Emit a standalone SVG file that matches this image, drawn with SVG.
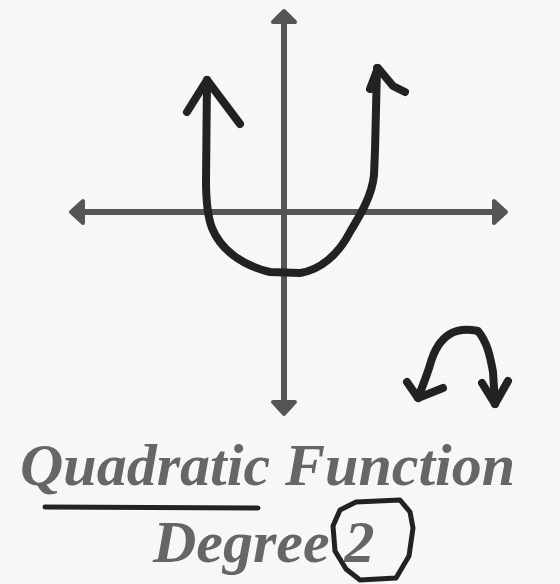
<svg xmlns="http://www.w3.org/2000/svg" width="560" height="584" viewBox="0 0 560 584">
<style>
.axis{stroke:#555;stroke-width:6;fill:none}
.head{fill:#555;stroke:#555;stroke-width:4;stroke-linejoin:round}
.ink{stroke:#222;stroke-width:8;fill:none;stroke-linecap:round;stroke-linejoin:round}
.title{font-family:"Liberation Serif","Times New Roman",serif;font-style:italic;font-weight:bold;font-size:60px;fill:#666}
</style>
<rect width="560" height="584" fill="#f7f7f7"/>
<g id="axes">
<line class="axis" x1="284" y1="20" x2="284" y2="402"/>
<line class="axis" x1="82" y1="212" x2="496" y2="212"/>
<polygon class="head" points="284,11 295,22 273,22"/>
<polygon class="head" points="284,414 295,402 273,402"/>
<polygon class="head" points="71,212 83,201 83,223"/>
<polygon class="head" points="506,212 494,201 494,223"/>
</g>
<g id="parabola">
<path class="ink" d="M207,80 L206,180 C206,200 207,215 212,228 C220,248 240,265 270,272 L300,273 C320,270 338,255 350,232 C362,212 372,195 374,175 L375,150 L377,68"/>
<path class="ink" d="M187,112 L207,80 L240,124"/>
<path class="ink" d="M370,89 L378,68 L393,86 L405,92"/>
</g>
<g id="small-cap">
<path class="ink" d="M418,398 C423,385 427,375 430,365 C434,350 440,340 450,334 C458,329 468,329 478,331 C487,342 490,355 493,372 L495,404"/>
<path class="ink" d="M407,382 L418,398 L443,388"/>
<path class="ink" d="M482,383 L495,404 L508,381"/>
</g>
<g id="title">
<text class="title" x="20" y="485">Quadratic Function</text>
<line class="ink" x1="45" y1="507" x2="258" y2="508" style="stroke-width:5"/>
</g>
<g id="degree">
<text class="title" x="153" y="562">Degree 2</text>
<path class="ink" style="stroke-width:5" d="M356,502 L400,500 L410,512 L413,528 L409,556 L396,578 L360,580 L346,569 L335,551 L333,526 L340,510 Z"/>
</g>
</svg>
